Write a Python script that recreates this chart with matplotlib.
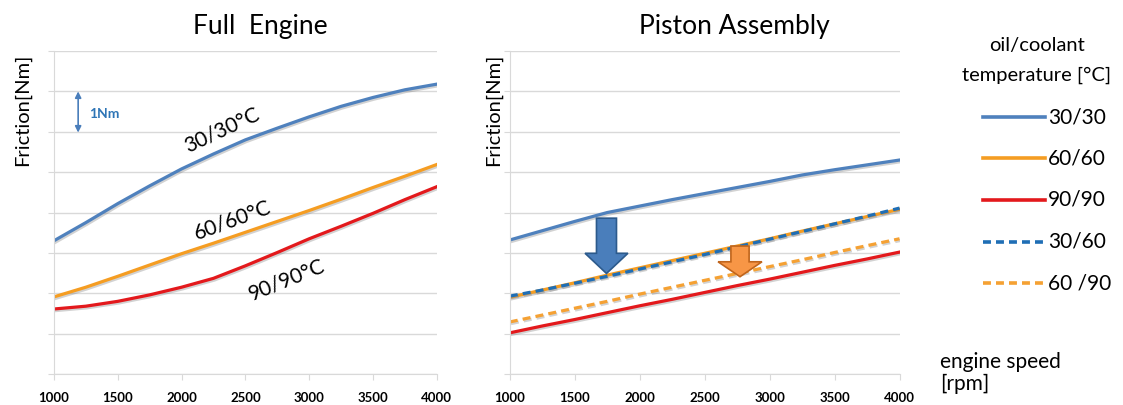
import matplotlib
matplotlib.use('Agg')
import matplotlib.pyplot as plt
import matplotlib.patheffects as pe
from matplotlib.patches import FancyArrow
from matplotlib.lines import Line2D

plt.rcParams['font.family'] = ['Lato', 'DejaVu Sans']

rpm = [1000, 1250, 1500, 1750, 2000, 2250, 2500, 2750, 3000, 3250, 3500, 3750, 4000]

# Full engine friction (1 Nm per grid step)
full_30_30 = [3.30, 3.75, 4.22, 4.66, 5.08, 5.45, 5.80, 6.09, 6.37, 6.63, 6.85, 7.04, 7.18]
full_60_60 = [1.91, 2.15, 2.42, 2.70, 2.98, 3.24, 3.51, 3.78, 4.05, 4.33, 4.62, 4.90, 5.19]
full_90_90 = [1.61, 1.68, 1.80, 1.96, 2.15, 2.37, 2.68, 3.01, 3.35, 3.66, 3.98, 4.32, 4.64]

# Piston assembly friction
pist_30_30 = [3.32, 3.55, 3.78, 4.00, 4.16, 4.32, 4.47, 4.62, 4.77, 4.93, 5.06, 5.18, 5.30]
pist_60_60 = [1.90, 2.08, 2.26, 2.45, 2.63, 2.81, 2.99, 3.17, 3.35, 3.54, 3.72, 3.90, 4.08]
pist_30_60 = [1.93, 2.08, 2.25, 2.42, 2.60, 2.78, 2.96, 3.15, 3.34, 3.53, 3.72, 3.91, 4.11]
pist_60_90 = [1.29, 1.46, 1.63, 1.80, 1.98, 2.15, 2.32, 2.49, 2.66, 2.83, 3.01, 3.18, 3.35]
pist_90_90 = [1.02, 1.19, 1.35, 1.52, 1.69, 1.85, 2.02, 2.19, 2.35, 2.52, 2.69, 2.85, 3.02]

legend_labels = ['30/30', '60/60', '90/90', '30/60', '60 /90']
xticks = [1000, 1500, 2000, 2500, 3000, 3500, 4000]

c_blue = '#4f81bd'
c_orange = '#f59d22'
c_red = '#e3191c'
c_dblue = '#1f6eb5'
c_dorange = '#f5a133'
dash = (0, (2.5, 1.6))

shadow = [pe.SimpleLineShadow(offset=(0.8, -1.2), shadow_color='#808080', alpha=0.35), pe.Normal()]

fig = plt.figure(figsize=(11.23, 4.05), dpi=100)
ax1 = fig.add_axes([0.048, 0.0765, 0.341, 0.7975])
ax2 = fig.add_axes([0.454, 0.0765, 0.347, 0.7975])


def style_axis(ax, title, title_x, label_x):
    ax.set_xlim(1000, 4000)
    ax.set_ylim(0, 8)
    ax.set_yticks(range(0, 9))
    ax.set_yticklabels([])
    ax.set_xticks(xticks)
    ax.set_xticklabels([str(t) for t in xticks], fontsize=9.5, fontweight='bold')
    ax.grid(axis='y', color='#d9d9d9', linewidth=1)
    ax.set_axisbelow(True)
    for s in ['top', 'right']:
        ax.spines[s].set_visible(False)
    for s in ['left', 'bottom']:
        ax.spines[s].set_color('#d9d9d9')
    ax.tick_params(axis='both', color='#d9d9d9', length=4, pad=9)
    ax.set_title(title, fontsize=19, pad=12, x=title_x)
    ax.set_ylabel('Friction[Nm]', fontsize=14.5)
    ax.yaxis.set_label_coords(label_x, 0.817)


style_axis(ax1, 'Full  Engine', 0.538, -0.06)
style_axis(ax2, 'Piston Assembly', 0.577, -0.02)

lw = 2.3
ax1.plot(rpm, full_30_30, color=c_blue, lw=lw, path_effects=shadow)
ax1.plot(rpm, full_60_60, color=c_orange, lw=lw, path_effects=shadow)
ax1.plot(rpm, full_90_90, color=c_red, lw=lw, path_effects=shadow)

ax1.text(2316, 6.04, '30/30°C', fontsize=15, rotation=25, ha='center', va='center')
ax1.text(2402, 3.81, '60/60°C', fontsize=15, rotation=20, ha='center', va='center')
ax1.text(2825, 2.33, '90/90°C', fontsize=15, rotation=22, ha='center', va='center')

ax1.annotate('', xy=(1190, 7.0), xytext=(1190, 5.98),
             arrowprops=dict(arrowstyle='<|-|>', color='#4a7ebb', lw=1.2,
                             mutation_scale=9, shrinkA=0, shrinkB=0))
ax1.text(1275, 6.45, '1Nm', fontsize=10, fontweight='bold', color='#2e75b6', va='center')

ax2.plot(rpm, pist_30_30, color=c_blue, lw=lw, path_effects=shadow)
ax2.plot(rpm, pist_60_60, color=c_orange, lw=lw, path_effects=shadow)
ax2.plot(rpm, pist_90_90, color=c_red, lw=lw, path_effects=shadow)
ax2.plot(rpm, pist_30_60, color=c_dblue, lw=lw, ls=dash, path_effects=shadow)
ax2.plot(rpm, pist_60_90, color=c_dorange, lw=lw, ls=dash, path_effects=shadow)

ax2.add_patch(FancyArrow(1744, 3.86, 0, -1.37, width=154, head_width=330,
                         head_length=0.50, length_includes_head=True,
                         facecolor='#4a7ebb', edgecolor='#2c5a8c', lw=1.2, zorder=4))
ax2.add_patch(FancyArrow(2772, 3.17, 0, -0.76, width=140, head_width=338,
                         head_length=0.37, length_includes_head=True,
                         facecolor='#f79646', edgecolor='#c0651c', lw=1.2, zorder=4))

# legend, drawn by hand in figure coordinates
legend_styles = [(c_blue, '-'), (c_orange, '-'), (c_red, '-'),
                 (c_dblue, (0, (2.2, 1.4))), (c_dorange, (0, (2.2, 1.4)))]
row_y = 1 - 117 / 405
row_step = 41.5 / 405
for i, (lab, (col, ls)) in enumerate(zip(legend_labels, legend_styles)):
    y = row_y - i * row_step
    fig.add_artist(Line2D([983 / 1123, 1045 / 1123], [y, y], color=col, lw=2.6, ls=ls))
    fig.text(1048 / 1123, y, lab, fontsize=15, ha='left', va='center')

fig.text(1037 / 1123, 1 - 46 / 405, 'oil/coolant', fontsize=14.5, ha='center', va='center')
fig.text(1037 / 1123, 1 - 75 / 405, 'temperature [°C]', fontsize=14.5, ha='center', va='center')
fig.text(940 / 1123, 1 - 362 / 405, 'engine speed', fontsize=15, ha='left', va='center')
fig.text(940 / 1123, 1 - 384 / 405, '[rpm]', fontsize=15, ha='left', va='center')

fig.savefig('out.png', dpi=100)
